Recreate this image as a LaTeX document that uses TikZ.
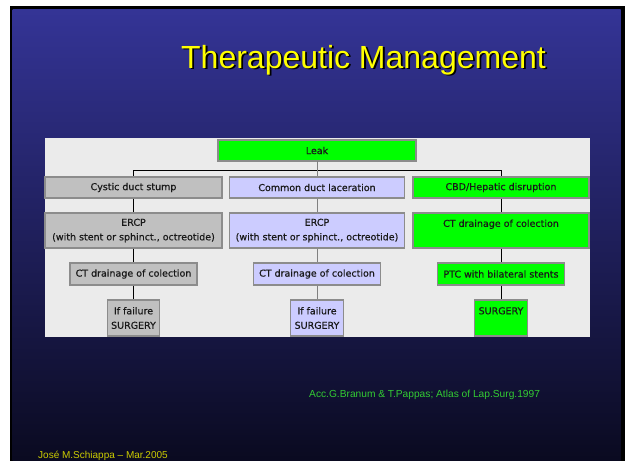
\documentclass[tikz,border=0pt]{standalone}
\usepackage{fontspec}
\setmainfont{Liberation Sans}
\newfontfamily\boxfont[FakeBold=0.6]{DejaVu Sans}
\definecolor{slidetop}{HTML}{343496}
\definecolor{slidebot}{HTML}{0A0A20}
\definecolor{panelc}{HTML}{EBEBEB}
\definecolor{gboxc}{HTML}{C0C0C0}
\definecolor{lboxc}{HTML}{CCCCFF}
\definecolor{nboxc}{HTML}{00FF00}
\definecolor{bedge}{HTML}{8C8C8C}
\definecolor{citec}{HTML}{33CC33}
\definecolor{footc}{HTML}{CCCC00}
\definecolor{titlec}{HTML}{FFFF00}
\begin{document}
\begin{tikzpicture}[x=1pt,y=-1pt,
  box/.style={draw=bedge, line width=1.2pt, inner sep=0pt, align=center,
    font=\boxfont\fontsize{9.5}{14.5}\selectfont, text=black!90},
  gbox/.style={box, fill=gboxc},
  lbox/.style={box, fill=lboxc},
  nbox/.style={box, fill=nboxc},
  link/.style={line width=0.9pt, draw=black},
  glink/.style={line width=0.9pt, draw=gray}]
\useasboundingbox (0,0) rectangle (625,461);
\fill[white] (0,0) rectangle (625,461);
\fill[black] (10,6) rectangle (625,461);
\shade[top color=slidetop, bottom color=slidebot] (12.5,9) rectangle (620.5,461);
% title
\node[anchor=base, inner sep=0pt, text=black, font=\fontsize{32}{38}\selectfont] (titleshadow) at (365.3,69.8) {Therapeutic Management};
\node[anchor=base, inner sep=0pt, text=titlec, font=\fontsize{32}{38}\selectfont] (title) at (363.5,68) {Therapeutic Management};
% panel
\fill[panelc] (45,138) rectangle (590,337);
% boxes
\node[nbox, minimum width=198pt, minimum height=21pt] (leak) at (317,150.5) {Leak};
\node[gbox, minimum width=177pt, minimum height=21pt] (c1) at (133.5,187.5) {Cystic duct stump};
\node[lbox, minimum width=175pt, minimum height=21pt] (m1) at (317,187.5) {Common duct laceration};
\node[nbox, minimum width=176pt, minimum height=21pt] (h1) at (501,187.5) {CBD/Hepatic disruption};
\node[gbox, minimum width=177pt, minimum height=35pt] (c2) at (133.5,230.5) {ERCP\\(with stent or sphinct., octreotide)};
\node[lbox, minimum width=175pt, minimum height=35pt] (m2) at (317,230.5) {ERCP\\(with stent or sphinct., octreotide)};
\node[nbox, minimum width=176pt, minimum height=35pt] (h2) at (501,230.5) {CT drainage of colection\\\mbox{}};
\node[gbox, minimum width=127pt, minimum height=22pt] (c3) at (133.5,274) {CT drainage of colection};
\node[lbox, minimum width=127pt, minimum height=22pt] (m3) at (317,274) {CT drainage of colection};
\node[nbox, minimum width=127pt, minimum height=22pt] (h3) at (501,274) {PTC with bilateral stents};
\node[gbox, minimum width=52.5pt, minimum height=36pt] (c4) at (133.5,318) {If failure\\SURGERY};
\node[lbox, minimum width=52.5pt, minimum height=36pt] (m4) at (317,318) {If failure\\SURGERY};
\node[nbox, minimum width=52.5pt, minimum height=36pt] (h4) at (501,318) {SURGERY\\\mbox{}};
% connectors
\draw[link] (leak.south) -- ++(0,8.5) -| (c1.north);
\draw[link] (leak.south) -- ++(0,8.5) -| (h1.north);
\draw[glink] (leak.south) -- (m1.north);
\draw[link] (c1.south) -- (c2.north);
\draw[link] (c2.south) -- (c3.north);
\draw[link] (c3.south) -- (c4.north);
\draw[glink] (m1.south) -- (m2.north);
\draw[glink] (m2.south) -- (m3.north);
\draw[glink] (m3.south) -- (m4.north);
\draw[link] (h1.south) -- (h2.north);
\draw[link] (h2.south) -- (h3.north);
\draw[link] (h3.south) -- (h4.north);
% texts
\node[anchor=base west, inner sep=0pt, text=citec, font=\fontsize{10.2}{12}\selectfont] (cite) at (309,397) {Acc.G.Branum \& T.Pappas; Atlas of Lap.Surg.1997};
\node[anchor=base west, inner sep=0pt, text=footc, font=\fontsize{10}{12}\selectfont] (foot) at (38,458) {José M.Schiappa – Mar.2005};
\end{tikzpicture}
\end{document}
